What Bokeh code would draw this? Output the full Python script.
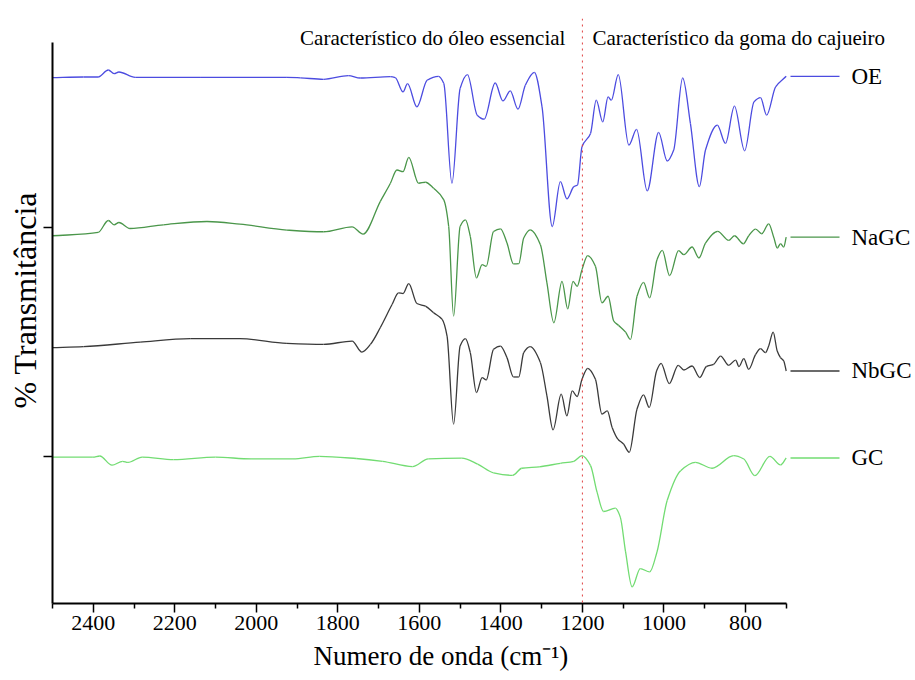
import numpy as np
from bokeh.plotting import figure
from bokeh.models import (Range1d, LinearAxis, FixedTicker, Span, Label, Title,
                          ColumnDataSource, CustomJSTickFormatter)
from bokeh.embed import file_html
from bokeh.resources import INLINE

# ---- data: wavenumber (cm-1) and offset transmittance (a.u.) ----
oe_wn = [2500, 2424, 2388, 2363, 2349, 2337, 2297, 2138, 1925, 1892, 1835, 1774, 1745, 1671, 1659,
         1640, 1629, 1606, 1581, 1553, 1540, 1520, 1500, 1482, 1458, 1441, 1414, 1395, 1377, 1358,
         1340, 1318, 1299, 1274, 1254, 1238, 1221, 1212, 1201, 1180, 1166, 1150, 1137, 1129, 1112,
         1086, 1067, 1041, 1013, 992, 976, 954, 935, 913, 898, 869, 849, 827, 802, 779, 763, 748, 726, 700]
oe_t = [527.7, 528.3, 528.3, 535.3, 531.7, 533.3, 528, 528, 528, 527.5, 526, 529.7, 527.3, 528.7, 527.7,
        513.3, 521.7, 498.3, 525, 529, 521.7, 421.7, 516.7, 530.7, 490, 486, 522.3, 504.3, 514.3, 496,
        520, 533, 498.3, 378.3, 423.3, 406, 418.3, 420, 458.3, 471.7, 505, 483.3, 508.3, 505, 530.7,
        460, 475.7, 414, 472.7, 444, 455, 527.3, 481.7, 418.3, 455, 480, 461.7, 499, 454.3, 503.3,
        507.7, 490, 518.3, 529]

nagc_wn = [2500, 2388, 2363, 2349, 2337, 2310, 2228, 2121, 2040, 1925, 1835, 1765, 1738, 1696, 1671,
           1655, 1640, 1626, 1602, 1585, 1565, 1540, 1528, 1516, 1500, 1487, 1475, 1460, 1446, 1436,
           1418, 1401, 1385, 1369, 1356, 1344, 1328, 1303, 1287, 1270, 1250, 1236, 1223, 1213, 1201,
           1187, 1168, 1152, 1137, 1123, 1111, 1094, 1082, 1066, 1050, 1035, 1017, 1004, 986, 964,
           951, 931, 914, 898, 868, 841, 827, 805, 792, 775, 760, 743, 730, 722, 714, 706, 700]
nagc_t = [369, 372.3, 384.3, 380, 382.3, 376.3, 380, 383.3, 380.7, 374.7, 373, 378, 370.7, 403.3, 421.7,
          435, 433.3, 447.7, 421.7, 422.7, 416.7, 405, 378.3, 288.3, 378.3, 385, 368.3, 326.7, 340, 338.3,
          373.3, 376, 361.7, 340.7, 341, 366.7, 375, 360, 321.7, 281.7, 323.3, 295.7, 323.3, 318.3, 335,
          349, 338.3, 301.7, 308.3, 283.3, 279, 272.3, 265, 308.3, 322.3, 306.7, 345, 354.3, 329, 354,
          350, 357.7, 346.7, 361.7, 373.3, 364.3, 369, 361, 369, 375.7, 371, 381, 366.7, 356.7, 361, 357.7, 367.7]

nbgc_wn = [2500, 2424, 2285, 2162, 2040, 1925, 1835, 1765, 1741, 1720, 1696, 1667, 1651, 1640, 1626,
           1606, 1585, 1565, 1544, 1532, 1516, 1500, 1487, 1475, 1460, 1446, 1436, 1418, 1401, 1385,
           1369, 1356, 1344, 1328, 1303, 1287, 1272, 1252, 1238, 1225, 1213, 1201, 1187, 1168, 1152,
           1139, 1127, 1113, 1099, 1085, 1066, 1050, 1036, 1018, 1007, 987, 965, 951, 931, 912,
           896, 878, 861, 841, 824, 816, 804, 792, 775, 763, 751, 743, 732, 722, 714, 706, 700]
nbgc_t = [256.7, 257.7, 262.3, 265.7, 265.7, 261, 260, 263.3, 252.3, 260, 276.7, 300, 311.7, 311, 321,
          301, 298.3, 291.7, 285, 268.3, 180, 258.3, 265.7, 251.7, 211.7, 226.7, 224.3, 255, 258.3, 246.7,
          227.3, 227.3, 251.7, 257.7, 241.7, 208.3, 174.3, 210, 188.3, 213.3, 207.7, 225, 236, 225, 190,
          193.3, 176.7, 165, 160, 151.7, 195, 209.3, 196.7, 233.3, 241, 220.7, 239, 234.3, 238.3, 226.7,
          237.7, 240, 248.3, 239, 244.3, 237.7, 245.7, 235, 250, 255.7, 251.7, 258.3, 272.3, 253.3, 246.7,
          243.3, 233.3]

gc_wn = [2500, 2401, 2384, 2354, 2328, 2315, 2280, 2203, 2100, 2013, 1910, 1845, 1755, 1690, 1617,
         1578, 1496, 1457, 1418, 1371, 1349, 1306, 1254, 1221, 1201, 1180, 1164, 1148, 1119, 1107,
         1094, 1078, 1058, 1035, 1017, 992, 959, 923, 882, 829, 804, 777, 740, 714, 700]
gc_t = [146.9, 146.9, 148, 138.8, 142.7, 141.6, 146.9, 144.4, 146.9, 145.1, 145.1, 147.6, 145.5, 142.7, 137.4,
        145.1, 145.8, 139.9, 131.1, 128.6, 135.7, 137.1, 140.7, 142.7, 148.3, 138.3, 111.7, 92.3, 95.7, 86.7,
        51.7, 16.7, 35, 31.7, 51.7, 103.3, 133.3, 141.7, 135.7, 148.3, 145, 128.3, 147.7, 139, 146]

series_names = ["OE", "NaGC", "NbGC", "GC"]
x_ticks = [2400, 2200, 2000, 1800, 1600, 1400, 1200, 1000, 800]
x_minor_ticks = [2500, 2300, 2100, 1900, 1700, 1500, 1300, 1100, 900, 700]
y_ticks = [148, 377]
boundary_wn = 1200

# ---- layout (pixels) ----
W, H = 915, 680
FRAME_L, FRAME_R, FRAME_T, FRAME_B = 52, 912, 18, 605
PPU = (785.7 - 52.0) / 1800.0


def X(px):
    return 2500 - (px - FRAME_L) / PPU


def Y(py):
    return FRAME_B - py


def smooth_source(xs, ys):
    """Monotone cubic (Fritsch-Carlson) Bezier pieces through the read points (line style only)."""
    x = np.asarray(xs, float)
    y = np.asarray(ys, float)
    h = np.diff(x)
    d = np.diff(y) / h
    m = np.zeros_like(y)
    m[0], m[-1] = d[0], d[-1]
    for i in range(1, len(y) - 1):
        if d[i - 1] * d[i] <= 0:
            m[i] = 0.0
        else:
            w1 = 2 * h[i] + h[i - 1]
            w2 = h[i] + 2 * h[i - 1]
            m[i] = (w1 + w2) / (w1 / d[i - 1] + w2 / d[i])
    return ColumnDataSource(dict(
        x0=x[:-1], y0=y[:-1], x1=x[1:], y1=y[1:],
        cx0=x[:-1] + h / 3, cy0=y[:-1] + m[:-1] * h / 3,
        cx1=x[1:] - h / 3, cy1=y[1:] - m[1:] * h / 3))


FONT = "Liberation Serif"
colors = ["#4c4ce0", "#4a964a", "#3a3a3a", "#72dc72"]

p = figure(width=W, height=H,
           x_range=Range1d(2500, X(FRAME_R)), y_range=Range1d(0, Y(FRAME_T)),
           x_axis_type=None, y_axis_type=None,
           min_border_left=FRAME_L, min_border_right=W - FRAME_R,
           min_border_top=FRAME_T, min_border_bottom=H - FRAME_B,
           output_backend="svg", toolbar_location=None)
p.outline_line_color = None
p.background_fill_color = "white"
p.border_fill_color = "white"

xaxis = LinearAxis(ticker=FixedTicker(ticks=x_ticks, minor_ticks=x_minor_ticks),
                   bounds=(700, 2500), axis_line_width=2, axis_line_color="black",
                   major_tick_out=9, major_tick_in=0, minor_tick_out=5, minor_tick_in=0,
                   major_tick_line_width=1.5, minor_tick_line_width=1.5,
                   major_label_text_font=FONT, major_label_text_font_size="22px",
                   major_label_text_color="black", major_label_standoff=3)
p.add_layout(xaxis, "below")

yaxis = LinearAxis(ticker=FixedTicker(ticks=y_ticks, minor_ticks=[]),
                   bounds=(0, Y(42)), axis_line_width=2, axis_line_color="black",
                   major_tick_out=9, major_tick_in=0, minor_tick_out=0, minor_tick_in=0,
                   major_tick_line_width=1.5, major_label_standoff=0,
                   formatter=CustomJSTickFormatter(code="return ''"))
p.add_layout(yaxis, "left")

p.add_layout(Title(text="Numero de onda (cm⁻¹)", align="left", offset=313 - FRAME_L,
                   vertical_align="top", standoff=16, text_line_height=0.8,
                   text_font=FONT, text_font_size="27px", text_font_style="normal",
                   text_color="black"), "below")
p.add_layout(Title(text="% Transmitância", align="left", offset=FRAME_B - 410,
                   vertical_align="middle", standoff=0,
                   text_font=FONT, text_font_size="32px", text_font_style="normal",
                   text_color="black"), "left")

all_wn = [oe_wn, nagc_wn, nbgc_wn, gc_wn]
all_t = [oe_t, nagc_t, nbgc_t, gc_t]
for wn, t, c in zip(all_wn, all_t, colors):
    p.bezier(x0="x0", y0="y0", x1="x1", y1="y1", cx0="cx0", cy0="cy0", cx1="cx1", cy1="cy1",
             line_color=c, line_width=1.3, source=smooth_source(wn, t))

p.add_layout(Span(location=boundary_wn, dimension="height", line_color="#e04040",
                  line_dash="dotted", line_width=1))

# legend at the end of each trace
ends = [t[-1] for t in all_t]
leg = ColumnDataSource(dict(x0=[X(790)] * 4, x1=[X(839)] * 4, y=ends, c=colors))
p.segment(x0="x0", x1="x1", y0="y", y1="y", line_color="c", line_width=1.3, source=leg)
for name, yv in zip(series_names, ends):
    p.add_layout(Label(x=X(851), y=yv, text=name, text_align="left", text_baseline="middle",
                       text_font=FONT, text_font_size="23px", text_color="black"))

p.add_layout(Label(x=boundary_wn, y=Y(38), x_offset=-17, text="Característico do óleo essencial",
                   text_align="right", text_baseline="alphabetic",
                   text_font=FONT, text_font_size="21px", text_color="black"))
p.add_layout(Label(x=boundary_wn, y=Y(38), x_offset=10, text="Característico da goma do cajueiro",
                   text_align="left", text_baseline="alphabetic",
                   text_font=FONT, text_font_size="21px", text_color="black"))

open("out.html", "w").write(file_html(p, INLINE))
